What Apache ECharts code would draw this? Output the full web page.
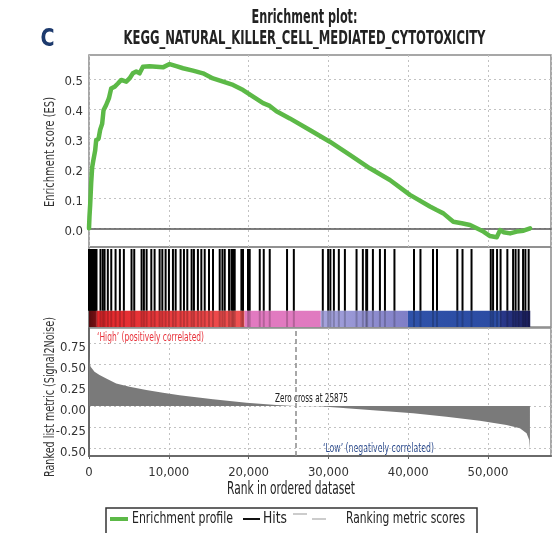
<!DOCTYPE html>
<html>
<head>
<meta charset="utf-8">
<script src="https://cdn.jsdelivr.net/npm/echarts@6/dist/echarts.min.js"></script>
<style>
  html, body { margin: 0; padding: 0; background: #fff; }
  #chart { width: 552px; height: 533px; }
</style>
</head>
<body>
<div id="chart"></div>
<script>
// ---- data ----
const rankTicks = [0, 10000, 20000, 30000, 40000, 50000];
const esTicks = [0.0, 0.1, 0.2, 0.3, 0.4, 0.5];
const metricTickValues = [0.75, 0.5, 0.25, 0, -0.25, -0.5];
const metricTickLabels = ['0.75', '0.50', '0.25', '0.00', '-0.25', '0.50'];
const zeroCross = 25875;

// running enrichment score: [rank, ES]
const esProfile = [
  [0, 0], [60, 0.04], [150, 0.08], [270, 0.15], [400, 0.205], [560, 0.23], [770, 0.26],
  [900, 0.295], [1200, 0.30], [1400, 0.33], [1650, 0.35], [1820, 0.395], [2150, 0.413],
  [2490, 0.435], [2780, 0.468], [3200, 0.474], [3620, 0.485], [4040, 0.497], [4670, 0.491],
  [5080, 0.502], [5500, 0.519], [5920, 0.525], [6340, 0.519], [6760, 0.541], [7590, 0.543],
  [8430, 0.541], [9270, 0.539], [10100, 0.55], [10940, 0.543], [11780, 0.536], [13030, 0.528],
  [14290, 0.519], [15540, 0.502], [16800, 0.491], [18050, 0.48], [19310, 0.463], [20560, 0.441],
  [21820, 0.419], [22650, 0.41], [23490, 0.392], [25160, 0.368], [27670, 0.329], [30180, 0.29],
  [32690, 0.246], [35200, 0.201], [37710, 0.162], [40220, 0.112], [42730, 0.073], [43570, 0.061],
  [44410, 0.05], [45660, 0.022], [46710, 0.017], [47750, 0.011], [48590, 0.0], [49430, -0.011],
  [50260, -0.026], [51100, -0.030], [51520, -0.006], [51940, -0.013], [52770, -0.017],
  [53610, -0.011], [54450, -0.008], [55280, 0.0]
];

// ranks of gene-set members in the ordered list
const hitRanks = [
  0, 100, 200, 310, 410, 520, 620, 730, 830, 940,
  1440, 1730, 1950, 2360, 2790, 3330, 3870, 4370, 5330, 5670, 6590, 6880, 7220, 7810, 8220,
  8850, 9190, 9600, 10020, 10520, 10860, 11480, 11900, 12320, 12860, 13150, 13650, 14080,
  14500, 15040, 15540, 16380, 16720, 17010, 17550, 17850, 18050, 18260, 19100, 19300, 19930,
  20140, 21400, 21900, 22650, 24820, 25670,
  29300, 29970, 30250, 30690, 31310, 32070, 33530, 34320, 34740, 34860, 35580, 36460, 37090,
  38280, 40730, 41540, 43110, 43610, 46160, 46810, 47940, 50350, 50640, 51140, 51580, 52430,
  53150, 53460, 53840, 54400, 54690, 55100
];

// ranking metric (Signal2Noise): [rank, value]
const rankingMetric = [
  [0, 0.62], [80, 0.53], [200, 0.47], [690, 0.41], [1320, 0.37], [2160, 0.33], [3410, 0.27],
  [5080, 0.23], [7180, 0.19], [9270, 0.16], [11360, 0.13], [13450, 0.104], [15540, 0.08],
  [17640, 0.06], [19730, 0.04], [21820, 0.024], [23490, 0.012], [25875, 0], [28930, -0.003],
  [32250, -0.028], [36430, -0.056], [40620, -0.088], [44800, -0.128], [48980, -0.176],
  [52330, -0.227], [54000, -0.267], [54840, -0.327], [55170, -0.407], [55260, -0.52]
];

// heat-bar bands: start rank, end rank
const bandStarts = [0, 900, 19500, 29050, 39970, 51500];
const bandEnds = [900, 19500, 29050, 39970, 51500, 55300];
const bandColorsFrom = ['#8e1418', '#e3262b', '#e27ac0', '#a6a4dd', '#2f52a9', '#2a3a8e'];
const bandColorsTo = ['#cf1f25', '#ef5252', '#e07ac0', '#7f7ec6', '#2b4ba2', '#1c1f5e'];

// ---- layout ----
const FONT = "'Liberation Sans Narrow','DejaVu Sans Condensed','Arial Narrow',sans-serif";
const XMAX = 57900;
const GREEN = '#5cb947';
const HIT_TOP = 0.975, HIT_BOTTOM = 0.204;

const chart = echarts.init(document.getElementById('chart'), null, { renderer: 'canvas' });

// horizontal squeeze so a condensed label spans the wanted width
const measureCtx = document.createElement('canvas').getContext('2d');
function fitScale(text, font, target) {
  measureCtx.font = font;
  return target / measureCtx.measureText(text).width;
}
function fitText(text, x, y, font, width, fill, extra) {
  return Object.assign({
    type: 'text', x: x, y: y, scaleX: fitScale(text, font, width),
    style: { text: text, font: font, fill: fill, align: 'left', verticalAlign: 'middle' }
  }, extra || {});
}
const titleFont = 'bold 19px ' + FONT;
const title1 = 'Enrichment plot:';
const title2 = 'KEGG_NATURAL_KILLER_CELL_MEDIATED_CYTOTOXICITY';
const legendFont = '15px ' + FONT;

const gridLine = { show: true, lineStyle: { type: [2, 3], color: '#c2c2c2', width: 1 } };
const labelStyle = { fontFamily: FONT, fontSize: 13, color: '#333' };

const option = {
  animation: false,
  backgroundColor: '#fff',
  grid: [
    { left: 89, right: 1, top: 55, height: 192, show: true, borderColor: '#8a8a8a', borderWidth: 1.5 },
    { left: 89, right: 1, top: 247, height: 80, show: true, borderColor: '#8a8a8a', borderWidth: 1.5 },
    { left: 89, right: 1, top: 328, height: 128, show: true, borderColor: '#8a8a8a', borderWidth: 1.5 }
  ],
  xAxis: [
    { gridIndex: 0, type: 'value', min: 0, max: XMAX, interval: 10000,
      axisLine: { show: true, onZero: true, lineStyle: { color: '#555', width: 1.5 } },
      axisTick: { show: false }, axisLabel: { show: false }, splitLine: gridLine },
    { gridIndex: 1, type: 'value', min: 0, max: XMAX, show: false },
    { gridIndex: 2, type: 'value', min: 0, max: XMAX, interval: 10000,
      axisLine: { show: true, onZero: false, lineStyle: { color: '#6a6a6a', width: 2 } },
      axisTick: { show: true, length: 3, lineStyle: { color: '#666' } },
      axisLabel: Object.assign({ margin: 10, showMaxLabel: false,
        formatter: v => v.toLocaleString('en-US') }, labelStyle),
      splitLine: gridLine }
  ],
  yAxis: [
    { gridIndex: 0, type: 'value', min: -0.0626, max: 0.5804,
      axisLine: { show: false },
      axisTick: { show: false, customValues: esTicks },
      axisLabel: Object.assign({ customValues: esTicks, margin: 6,
        verticalAlign: 'top', lineHeight: 6,
        formatter: v => v.toFixed(1) }, labelStyle),
      splitLine: gridLine },
    { gridIndex: 1, type: 'value', min: 0, max: 1, show: false },
    { gridIndex: 2, type: 'value', min: -0.598, max: 0.933,
      axisLine: { show: true, onZero: false, lineStyle: { color: '#6a6a6a', width: 2 } },
      axisTick: { show: false, customValues: metricTickValues },
      axisLabel: Object.assign({ customValues: metricTickValues, margin: 3,
        verticalAlign: 'top', lineHeight: 9,
        formatter: v => metricTickLabels[metricTickValues.indexOf(v)] }, labelStyle),
      splitLine: gridLine }
  ],
  series: [
    {
      name: 'Enrichment profile', type: 'line', xAxisIndex: 0, yAxisIndex: 0,
      data: esProfile, showSymbol: false, z: 5,
      lineStyle: { color: GREEN, width: 4.5, join: 'round', cap: 'round' }
    },
    {
      name: 'Heat bar', type: 'custom', xAxisIndex: 1, yAxisIndex: 1, z: 2,
      data: bandStarts.map((s, i) => [s, bandEnds[i]]),
      renderItem: (params, api) => {
        const i = params.dataIndex;
        const a = api.coord([api.value(0), HIT_BOTTOM]);
        const b = api.coord([api.value(1), 0]);
        return {
          type: 'rect',
          shape: { x: a[0], y: a[1], width: b[0] - a[0], height: b[1] - a[1] },
          style: {
            fill: new echarts.graphic.LinearGradient(0, 0, 1, 0, [
              { offset: 0, color: bandColorsFrom[i] },
              { offset: 1, color: bandColorsTo[i] }
            ])
          }
        };
      }
    },
    {
      name: 'Hits', type: 'custom', xAxisIndex: 1, yAxisIndex: 1, z: 4,
      data: hitRanks.map(r => [r, 0]),
      renderItem: (params, api) => {
        const x = api.value(0);
        const p1 = api.coord([x, HIT_TOP]);
        const p2 = api.coord([x, HIT_BOTTOM]);
        const p3 = api.coord([x, 0]);
        return {
          type: 'group',
          children: [
            { type: 'line', shape: { x1: p1[0], y1: p1[1], x2: p2[0], y2: p2[1] },
              style: { stroke: '#000', lineWidth: 2 } },
            { type: 'line', shape: { x1: p2[0], y1: p2[1], x2: p3[0], y2: p3[1] },
              style: { stroke: 'rgba(0,0,0,0.2)', lineWidth: 2 } }
          ]
        };
      }
    },
    {
      // filled profile of the ranked list metric, closed on the zero baseline
      name: 'Ranking metric scores', type: 'custom', xAxisIndex: 2, yAxisIndex: 2, z: 3,
      data: [[0, 0]],
      renderItem: (params, api) => {
        const pts = rankingMetric.map(d => api.coord(d));
        const last = rankingMetric[rankingMetric.length - 1];
        pts.push(api.coord([last[0], 0]));
        pts.push(api.coord([rankingMetric[0][0], 0]));
        return { type: 'polygon', shape: { points: pts }, style: { fill: '#7a7a7a' } };
      },
      markLine: {
        silent: true, symbol: 'none', label: { show: false },
        lineStyle: { type: [5, 3], color: '#8a8a8a', width: 1.5 },
        data: [{ xAxis: zeroCross }]
      }
    }
  ],
  graphic: [
    { type: 'text', x: 304.5, y: 18.5, scaleX: fitScale(title1, titleFont, 106),
      style: { text: title1, font: titleFont, fill: '#222', align: 'center', verticalAlign: 'middle' } },
    { type: 'text', x: 304.5, y: 39.5, scaleX: fitScale(title2, titleFont, 362),
      style: { text: title2, font: titleFont, fill: '#222', align: 'center', verticalAlign: 'middle' } },
    { type: 'text', x: 47.5, y: 39, scaleX: 0.85,
      style: { text: 'C', font: 'bold 25px ' + FONT, fill: '#1d3a6d', align: 'center', verticalAlign: 'middle' } },
    // axis titles
    fitText('Enrichment score (ES)', 50, 207, '14px ' + FONT, 110, '#333', { rotation: Math.PI / 2 }),
    fitText('Ranked list metric (Signal2Noise)', 50, 477, '14px ' + FONT, 160, '#333', { rotation: Math.PI / 2 }),
    fitText('Rank in ordered dataset', 227, 490, '17px ' + FONT, 128, '#222'),
    // panel notes
    fitText('\u2018High\u2019 (positively correlated)', 97, 337.5, '13px ' + FONT, 107, '#e8323b'),
    fitText('\u2018Low\u2019 (negatively correlated)', 323, 449, '13px ' + FONT, 111, '#2b4a8c'),
    fitText('Zero cross at ' + zeroCross, 275, 398.5, '12px ' + FONT, 73, '#222'),
    // legend
    { type: 'rect', shape: { x: 106, y: 508, width: 371, height: 40 },
      style: { fill: '#fff', stroke: '#333', lineWidth: 1.5 } },
    { type: 'line', shape: { x1: 110, y1: 519, x2: 128, y2: 519 }, style: { stroke: GREEN, lineWidth: 4 } },
    fitText('Enrichment profile', 132, 519, legendFont, 101, '#222'),
    { type: 'line', shape: { x1: 243, y1: 519, x2: 260, y2: 519 }, style: { stroke: '#111', lineWidth: 2 } },
    fitText('Hits', 263, 519, legendFont, 24, '#222'),
    { type: 'line', shape: { x1: 293, y1: 514, x2: 307, y2: 514 }, style: { stroke: '#bbb', lineWidth: 1.5 } },
    { type: 'line', shape: { x1: 312, y1: 519, x2: 326, y2: 519 }, style: { stroke: '#bbb', lineWidth: 1.5 } },
    fitText('Ranking metric scores', 346, 519, legendFont, 119, '#222')
  ]
};

chart.setOption(option);
</script>
</body>
</html>
